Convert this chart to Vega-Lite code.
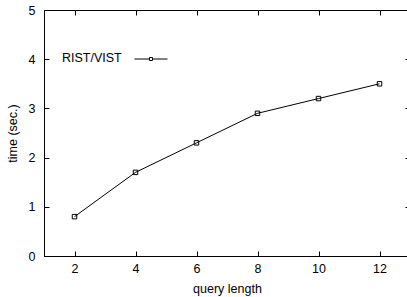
{
  "$schema": "https://vega.github.io/schema/vega-lite/v6.json",
  "width": 366,
  "height": 246,
  "autosize": {"type": "none"},
  "padding": {"left": 44, "top": 10, "right": 0, "bottom": 41},
  "background": "white",
  "config": {
    "font": "Liberation Sans",
    "view": {"stroke": "black", "strokeWidth": 1},
    "axis": {
      "grid": false,
      "domainColor": "black",
      "tickColor": "black",
      "labelColor": "black",
      "titleColor": "black",
      "labelFont": "Liberation Sans",
      "titleFont": "Liberation Sans",
      "labelFontSize": 12.5,
      "titleFontSize": 12.5,
      "titleFontWeight": "normal"
    }
  },
  "data": {
    "values": [
      {"len": 2, "time": 0.8, "series": "RIST/VIST"},
      {"len": 4, "time": 1.7, "series": "RIST/VIST"},
      {"len": 6, "time": 2.3, "series": "RIST/VIST"},
      {"len": 8, "time": 2.9, "series": "RIST/VIST"},
      {"len": 10, "time": 3.2, "series": "RIST/VIST"},
      {"len": 12, "time": 3.5, "series": "RIST/VIST"}
    ]
  },
  "layer": [
    {
      "mark": {"type": "line", "strokeWidth": 1, "point": {"shape": "square", "filled": false, "size": 20, "stroke": "black", "strokeWidth": 1}},
      "encoding": {
        "x": {"field": "len", "type": "quantitative", "scale": {"domain": [1, 13], "nice": false},
          "axis": {"orient": "bottom", "title": "query length", "values": [2, 4, 6, 8, 10, 12], "tickSize": -5, "labelPadding": 11, "titlePadding": 8, "labelFlush": false}},
        "y": {"field": "time", "type": "quantitative", "scale": {"domain": [0, 5], "nice": false},
          "axis": {"orient": "left", "title": "time (sec.)", "values": [0, 1, 2, 3, 4, 5], "tickSize": -5, "labelPadding": 14, "titlePadding": 9, "labelFlush": false}},
        "color": {"field": "series", "type": "nominal", "scale": {"range": ["black"]},
          "legend": {
            "orient": "none", "legendX": 18, "legendY": 32,
            "title": "RIST/VIST", "titleOrient": "left", "titleBaseline": "top", "titleAnchor": "middle", "titleFontSize": 12.5, "titleFontWeight": "normal", "titleFont": "Liberation Sans", "titleColor": "black", "titlePadding": 12,
            "labelExpr": "''", "labelFontSize": 1,
            "symbolType": "M-1,0H-0.09M0.09,0H1M-0.09,-0.09H0.09V0.09H-0.09Z",
            "symbolSize": 1089, "symbolStrokeWidth": 1, "symbolStrokeColor": "black", "symbolFillColor": "transparent"
          }}
      }
    },
    {
      "mark": {"type": "point", "opacity": 0},
      "encoding": {
        "x": {"field": "len", "type": "quantitative", "axis": {"orient": "top", "title": null, "labels": false, "domain": false, "values": [2, 4, 6, 8, 10, 12], "tickSize": -5}},
        "y": {"field": "time", "type": "quantitative", "axis": {"orient": "right", "title": null, "labels": false, "domain": false, "values": [0, 1, 2, 3, 4, 5], "tickSize": -5}}
      }
    }
  ],
  "resolve": {"axis": {"x": "independent", "y": "independent"}}
}
